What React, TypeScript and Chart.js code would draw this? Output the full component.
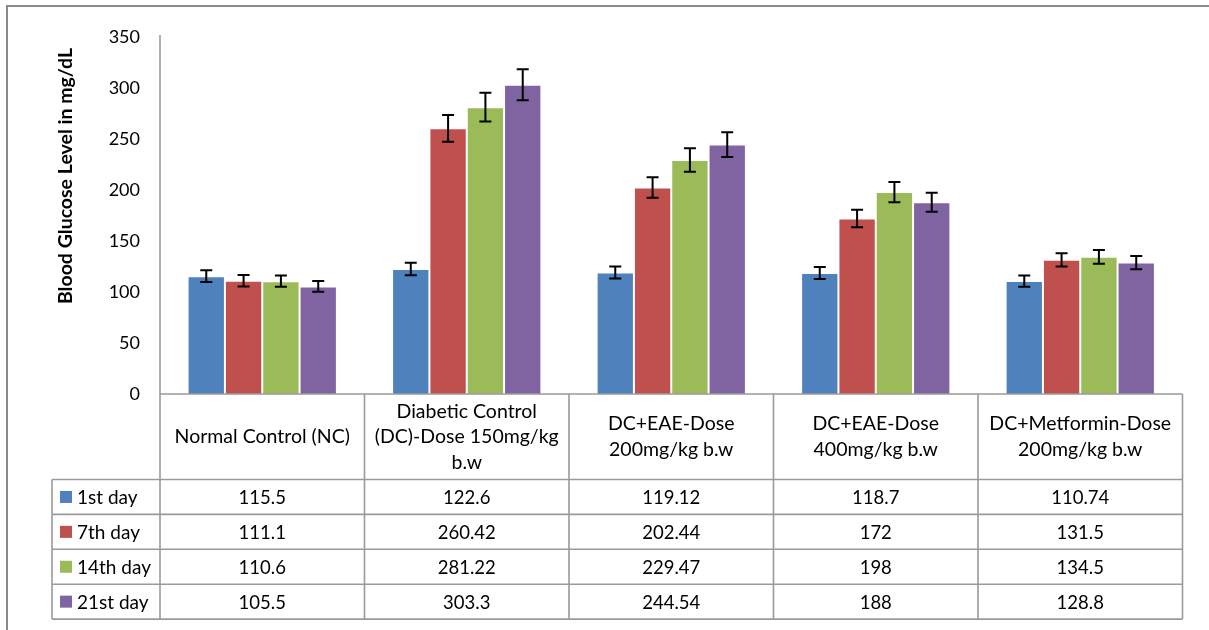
import React, { useEffect, useRef } from "react";
import { Chart, registerables } from "chart.js";

Chart.register(...registerables);

const categories: string[][] = [
  ["Normal Control (NC)"],
  ["Diabetic Control", "(DC)-Dose 150mg/kg", "b.w"],
  ["DC+EAE-Dose", "200mg/kg b.w"],
  ["DC+EAE-Dose", "400mg/kg b.w"],
  ["DC+Metformin-Dose", "200mg/kg b.w"],
];
const seriesNames = ["1st day", "7th day", "14th day", "21st day"];
const day1 = [115.5, 122.6, 119.12, 118.7, 110.74];
const day7 = [111.1, 260.42, 202.44, 172, 131.5];
const day14 = [110.6, 281.22, 229.47, 198, 134.5];
const day21 = [105.5, 303.3, 244.54, 188, 128.8];
const err1 = [5.8, 6.1, 6.0, 5.9, 5.5];
const err7 = [5.6, 13.0, 10.1, 8.6, 6.6];
const err14 = [5.5, 14.1, 11.5, 9.9, 6.7];
const err21 = [5.3, 15.2, 12.2, 9.4, 6.4];
const colors = ["#4F81BD", "#C0504D", "#9BBB59", "#8064A2"];
const yTitle = "Blood Glucose Level in mg/dL";
const yMin = 0;
const yMax = 350;
const yStep = 50;

const seriesValues = [day1, day7, day14, day21];
const seriesErrors = [err1, err7, err14, err21];

const FONT = "Lato, 'Open Sans', sans-serif";
const LINE = "#9a9a9a";

const errorBarPlugin = {
  id: "errorBars",
  afterDatasetsDraw(chart: any) {
    const ctx = chart.ctx;
    const y = chart.scales.y;
    ctx.save();
    ctx.strokeStyle = "#000";
    ctx.lineWidth = 2;
    chart.data.datasets.forEach((ds: any, di: number) => {
      const meta = chart.getDatasetMeta(di);
      meta.data.forEach((el: any, i: number) => {
        const v = ds.data[i];
        const e = seriesErrors[di][i];
        const yt = y.getPixelForValue(v + e);
        const yb = y.getPixelForValue(v - e);
        const x = el.x;
        ctx.beginPath();
        ctx.moveTo(x, yt);
        ctx.lineTo(x, yb);
        ctx.moveTo(x - 6, yt);
        ctx.lineTo(x + 6, yt);
        ctx.moveTo(x - 6, yb);
        ctx.lineTo(x + 6, yb);
        ctx.stroke();
      });
    });
    ctx.restore();
  },
};

const tablePlugin = {
  id: "dataTable",
  afterDraw(chart: any) {
    const ctx = chart.ctx;
    const xs = chart.scales.x;
    const area = chart.chartArea;
    const n = categories.length;
    const left = area.left;
    const right = area.right;
    const top0 = area.bottom;
    const catH = 85.5;
    const rowH = 34.9;
    const legendLeft = 52;
    const rowsTop = top0 + catH;
    const bottom = rowsTop + rowH * seriesNames.length;

    const bounds: number[] = [left];
    for (let i = 0; i < n - 1; i++) {
      bounds.push((xs.getPixelForValue(i) + xs.getPixelForValue(i + 1)) / 2);
    }
    bounds.push(right);

    ctx.save();
    // outer frame
    ctx.strokeStyle = "#8a8a8a";
    ctx.lineWidth = 2;
    ctx.strokeRect(7, 6, 1400, 800);

    ctx.strokeStyle = LINE;
    ctx.lineWidth = 1.6;
    ctx.beginPath();
    ctx.moveTo(left, area.top - 2);
    ctx.lineTo(left, bottom);
    ctx.moveTo(left, top0);
    ctx.lineTo(right, top0);
    for (let i = 1; i < bounds.length; i++) {
      ctx.moveTo(bounds[i], top0);
      ctx.lineTo(bounds[i], bottom);
    }
    ctx.moveTo(legendLeft, rowsTop);
    ctx.lineTo(legendLeft, bottom);
    for (let r = 0; r <= seriesNames.length; r++) {
      const yy = rowsTop + r * rowH;
      ctx.moveTo(legendLeft, yy);
      ctx.lineTo(right, yy);
    }
    ctx.stroke();

    // category labels
    ctx.fillStyle = "#000";
    ctx.font = `19.5px ${FONT}`;
    ctx.textAlign = "center";
    ctx.textBaseline = "middle";
    const lh = 25.5;
    categories.forEach((lines, i) => {
      const cx = (bounds[i] + bounds[i + 1]) / 2;
      const cy = top0 + catH / 2;
      const start = cy - ((lines.length - 1) * lh) / 2;
      lines.forEach((ln, k) => ctx.fillText(ln, cx, start + k * lh));
    });

    // rows
    seriesNames.forEach((name, r) => {
      const cy = rowsTop + r * rowH + rowH / 2;
      ctx.fillStyle = colors[r];
      ctx.fillRect(60, cy - 6, 12, 12);
      ctx.fillStyle = "#000";
      ctx.textAlign = "left";
      ctx.font = `19px ${FONT}`;
      ctx.fillText(name, 77, cy + 1);
      ctx.textAlign = "center";
      ctx.font = `18.5px ${FONT}`;
      seriesValues[r].forEach((v, i) => {
        const cx = (bounds[i] + bounds[i + 1]) / 2;
        ctx.fillText(String(v), cx, cy + 1);
      });
    });

    // y title
    ctx.save();
    ctx.translate(66, 176);
    ctx.rotate(-Math.PI / 2);
    ctx.font = `bold 19.5px ${FONT}`;
    ctx.textAlign = "center";
    ctx.textBaseline = "middle";
    ctx.fillText(yTitle, 0, 0);
    ctx.restore();

    ctx.restore();
  },
};

export default function App() {
  const ref = useRef<HTMLCanvasElement | null>(null);
  useEffect(() => {
    if (!ref.current) return;
    const chart = new Chart(ref.current, {
      type: "bar",
      data: {
        labels: categories,
        datasets: seriesNames.map((name, i) => ({
          label: name,
          data: seriesValues[i],
          backgroundColor: colors[i],
          borderColor: "rgba(255,255,255,0.45)",
          borderWidth: 1,
          categoryPercentage: 0.73,
          barPercentage: 1,
        })),
      },
      options: {
        animation: false,
        responsive: false,
        maintainAspectRatio: false,
        layout: { padding: { left: 0, right: 26.5, top: 37, bottom: 236 } },
        plugins: { legend: { display: false }, tooltip: { enabled: false } },
        scales: {
          x: { display: false, offset: true },
          y: {
            min: yMin,
            max: yMax,
            ticks: { stepSize: yStep, color: "#000", font: { family: FONT, size: 18 }, padding: 20 },
            grid: { display: false, drawTicks: false },
            border: { display: false },
            afterFit: (s: any) => {
              s.width = 160;
            },
          },
        },
      },
      plugins: [errorBarPlugin, tablePlugin],
    });
    return () => chart.destroy();
  }, []);
  return (
    <div style={{ position: "absolute", left: 0, top: 0, width: 1209, height: 630, background: "#fff" }}>
      <canvas ref={ref} width={1209} height={630} style={{ display: "block" }} />
    </div>
  );
}
